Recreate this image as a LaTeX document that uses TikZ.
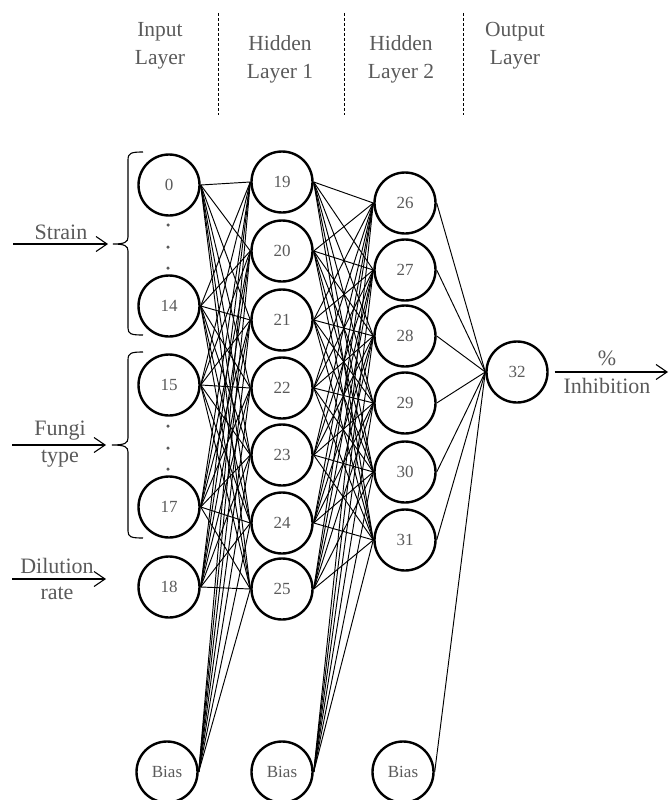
\documentclass[tikz,border=0pt]{standalone}
\usepackage{fontspec}
\setmainfont{Liberation Serif}
\usetikzlibrary{arrows.meta}
\definecolor{txt}{HTML}{5A5A5A}
\tikzset{
  neuron/.style={circle,draw=black,line width=2.4pt,minimum size=61pt,inner sep=0pt,
    text=txt,font=\fontsize{17}{20}\selectfont},
  conn/.style={line width=0.95pt},
  hdr/.style={text=txt,align=center,font=\fontsize{21.5}{28}\selectfont,inner sep=0pt},
  lbl/.style={text=txt,align=center,font=\fontsize{22}{27}\selectfont,inner sep=0pt},
  sep/.style={line width=1pt,dash pattern=on 3pt off 2pt},
  brk/.style={line width=1.1pt},
  inarrow/.style={line width=1.1pt,-{Straight Barb[length=11pt,width=15pt]}},
  dotm/.style={circle,fill=txt,inner sep=0pt,minimum size=3.5pt}
}
\begin{document}
\begin{tikzpicture}[x=1pt,y=-1pt]
\useasboundingbox (0,0) rectangle (669,800);
\clip (0,0) rectangle (669,800);
% header
\node[hdr] (hin) at (160,46) {Input\\Layer};
\node[hdr] (hh1) at (280,59) {Hidden\\Layer 1};
\node[hdr] (hh2) at (401,59) {Hidden\\Layer 2};
\node[hdr] (hout) at (515,46) {Output\\Layer};
\coordinate (s1t) at (218,13); \coordinate (s1b) at (218,115);
\coordinate (s2t) at (344,13); \coordinate (s2b) at (344,115);
\coordinate (s3t) at (463,13); \coordinate (s3b) at (463,115);
\draw[sep] (s1t) -- (s1b);
\draw[sep] (s2t) -- (s2b);
\draw[sep] (s3t) -- (s3b);
% input layer
\node[neuron] (i0) at (169,185) {0};
\node[neuron] (i14) at (169,306) {14};
\node[neuron] (i15) at (169,385) {15};
\node[neuron] (i17) at (169,507) {17};
\node[neuron] (i18) at (169,587) {18};
\node[neuron] (b1) at (167,772) {Bias};
% hidden 1
\node[neuron] (h19) at (282,182) {19};
\node[neuron] (h20) at (282,251) {20};
\node[neuron] (h21) at (282,320) {21};
\node[neuron] (h22) at (282,388) {22};
\node[neuron] (h23) at (282,455) {23};
\node[neuron] (h24) at (282,523) {24};
\node[neuron] (h25) at (282,589) {25};
\node[neuron] (b2) at (282,772) {Bias};
% hidden 2
\node[neuron] (h26) at (405,203) {26};
\node[neuron] (h27) at (405,270) {27};
\node[neuron] (h28) at (405,336) {28};
\node[neuron] (h29) at (405,403) {29};
\node[neuron] (h30) at (405,472) {30};
\node[neuron] (h31) at (405,540) {31};
\node[neuron] (b3) at (403,772) {Bias};
% output
\node[neuron] (o32) at (517,372) {32};
% connections
\foreach \s in {i0,i14,i15,i17,i18,b1}
  \foreach \t in {h19,h20,h21,h22,h23,h24,h25}
    \draw[conn] (\s.east) -- (\t.west);
\foreach \s in {h19,h20,h21,h22,h23,h24,h25,b2}
  \foreach \t in {h26,h27,h28,h29,h30,h31}
    \draw[conn] (\s.east) -- (\t.west);
\foreach \s in {h26,h27,h28,h29,h30,h31,b3}
  \draw[conn] (\s.east) -- (o32.west);
% dots
\node[dotm] (d1) at (168,225) {};
\node[dotm] (d2) at (168,247) {};
\node[dotm] (d3) at (168,268) {};
\node[dotm] (d4) at (168,426) {};
\node[dotm] (d5) at (168,448) {};
\node[dotm] (d6) at (168,469) {};
% brackets
\draw[brk] (143,152) .. controls (131,152) and (128,153) .. (128,160) -- (128,237)
  .. controls (128,242) and (125,244) .. (113,244)
  .. controls (125,244) and (128,246) .. (128,251) -- (128,328)
  .. controls (128,334) and (131,335) .. (143,335);
\draw[brk] (143,352) .. controls (131,352) and (128,353) .. (128,360) -- (128,438)
  .. controls (128,443) and (125,445) .. (112,445)
  .. controls (125,445) and (128,447) .. (128,452) -- (128,531)
  .. controls (128,537) and (131,538) .. (143,538);
% input arrows and labels
\coordinate (as0) at (13,244); \coordinate (as1) at (108,244);
\draw[inarrow] (as0) -- (as1);
\node[lbl] (lstrain) at (61,232) {Strain};
\coordinate (af0) at (12,445); \coordinate (af1) at (106,445);
\draw[inarrow] (af0) -- (af1);
\node[lbl] (lfungi) at (60,431) {Fungi};
\node[lbl] (ltype) at (60,459) {type};
\coordinate (ad0) at (12,579); \coordinate (ad1) at (106,579);
\draw[inarrow] (ad0) -- (ad1);
\node[lbl] (ldil) at (57,566) {Dilution};
\node[lbl] (lrate) at (57,593) {rate};
% output arrow
\coordinate (ao1) at (668,372);
\draw[inarrow] ([xshift=6pt]o32.east) -- (ao1);
\node[lbl] (lpct) at (607,358) {\%};
\node[lbl] (linh) at (607,386) {Inhibition};
\end{tikzpicture}
\end{document}
